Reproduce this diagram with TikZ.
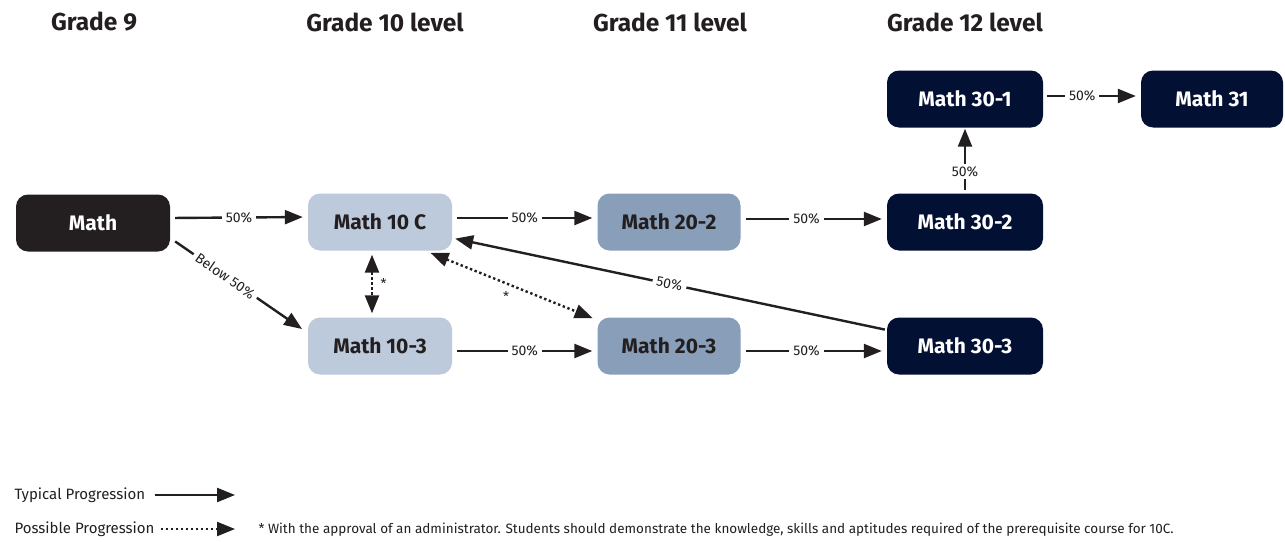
\documentclass[tikz,border=0pt]{standalone}
\usepackage{fontspec}
\setmainfont{Fira Sans}
\usetikzlibrary{arrows.meta}

\definecolor{inkdark}{HTML}{231F20}
\definecolor{paleblue}{HTML}{BCCADB}
\definecolor{midblue}{HTML}{889EB9}
\definecolor{navy}{HTML}{021033}

\begin{document}
\begin{tikzpicture}[x=1pt, y=-1pt,
  course/.style={rounded corners=12pt, minimum height=57pt, inner sep=0pt,
    font=\fontsize{21}{24}\selectfont\bfseries},
  nine/.style={course, fill=inkdark, text=white, minimum width=154pt},
  ten/.style={course, fill=paleblue, text=inkdark, minimum width=144pt},
  eleven/.style={course, fill=midblue, text=inkdark, minimum width=143pt},
  twelve/.style={course, fill=navy, text=white, minimum width=156pt},
  grade/.style={font=\fontsize{24.5}{28}\selectfont\bfseries, text=inkdark},
  typical/.style={draw=inkdark, line width=2.4pt, -{Triangle[length=18pt, width=14pt]}},
  possible/.style={draw=inkdark, line width=2.4pt, dash pattern=on 2.4pt off 2.6pt,
    {Triangle[length=18pt, width=14pt]}-{Triangle[length=18pt, width=14pt]}},
  pct/.style={fill=white, inner xsep=4pt, inner ysep=2pt, text=inkdark, font=\fontsize{14}{16}\selectfont},
  note/.style={text=inkdark, font=\fontsize{13.5}{16}\selectfont}
]
\useasboundingbox (0,0) rectangle (1285,541);

% grade headings
\node[grade] (g9) at (94,22) {Grade 9};
\node[grade] (g10) at (385,22) {Grade 10 level};
\node[grade] (g11) at (670,22) {Grade 11 level};
\node[grade] (g12) at (965,22) {Grade 12 level};

% courses
\node[nine] (math) at (93,223) {Math};
\node[ten] (mtenc) at (380,222) {Math 10 C};
\node[ten] (mtenthree) at (380,346) {Math 10-3};
\node[eleven] (mtwentytwo) at (669,222) {Math 20-2};
\node[eleven] (mtwentythree) at (669,346) {Math 20-3};
\node[twelve] (mthirtyone) at (965,99) {Math 30-1};
\node[twelve] (mthirtytwo) at (965,222) {Math 30-2};
\node[twelve] (mthirtythree) at (965,346) {Math 30-3};
\node[twelve, minimum width=142pt] (mthirtyonecalc) at (1212,99) {Math 31};

% typical progression
\draw[typical, shorten <=5pt, shorten >=5pt] ([yshift=5]math.east) -- node[pct] {50\%} ([yshift=5]mtenc.west);
\draw[typical, shorten <=6pt, shorten >=7pt] ([yshift=-15]math.east) -- node[pct, sloped, pos=0.4] {Below 50\%} ([yshift=13]mtenthree.west);
\draw[typical, shorten <=5pt, shorten >=5pt] ([yshift=4]mtenc.east) -- node[pct] {50\%} ([yshift=4]mtwentytwo.west);
\draw[typical, shorten <=5pt, shorten >=5pt] ([yshift=-5]mtenthree.east) -- node[pct] {50\%} ([yshift=-5]mtwentythree.west);
\draw[typical, shorten <=5pt, shorten >=5pt] ([yshift=3]mtwentytwo.east) -- node[pct, pos=0.45] {50\%} ([yshift=3]mthirtytwo.west);
\draw[typical, shorten <=5pt, shorten >=5pt] ([yshift=-5]mtwentythree.east) -- node[pct, pos=0.45] {50\%} ([yshift=-5]mthirtythree.west);
\draw[typical, shorten <=3pt, shorten >=1pt] (mthirtytwo.north) -- node[pct, pos=0.33] {50\%} (mthirtyone.south);
\draw[typical, shorten <=4pt, shorten >=5pt] ([yshift=3]mthirtyone.east) -- node[pct, pos=0.4] {50\%} ([yshift=3]mthirtyonecalc.west);
\draw[typical, shorten <=2pt, shorten >=3pt] ([yshift=16]mthirtythree.west) -- node[pct, sloped] {50\%} ([yshift=-16]mtenc.east);

% possible progression
\draw[possible, shorten <=4pt, shorten >=4pt] ([xshift=-8]mtenc.south) -- node[note, right=4pt] {*} ([xshift=-8]mtenthree.north);
\draw[possible, shorten <=6pt, shorten >=5pt] ([xshift=45]mtenc.south) -- node[note, pos=0.47, below=4pt] {*} ([yshift=26]mtwentythree.west);

% legend
\node[note, anchor=west, font=\fontsize{15}{18}\selectfont] (typtext) at (11,495) {Typical Progression};
\node[note, anchor=west, font=\fontsize{15}{18}\selectfont] (postext) at (11,529) {Possible Progression};
\coordinate (typend) at (235,495);
\coordinate (posend) at (235,529);
\draw[typical, shorten <=6pt] (typtext.east) -- (typend);
\draw[draw=inkdark, line width=2.4pt, dash pattern=on 2.4pt off 2.6pt, -{Triangle[length=18pt, width=14pt]}, shorten <=3pt] (postext.east) -- (posend);
\node[note, anchor=west] (footnote) at (255,530) {* With the approval of an administrator. Students should demonstrate the knowledge, skills and aptitudes required of the prerequisite course for 10C.};
\end{tikzpicture}
\end{document}
